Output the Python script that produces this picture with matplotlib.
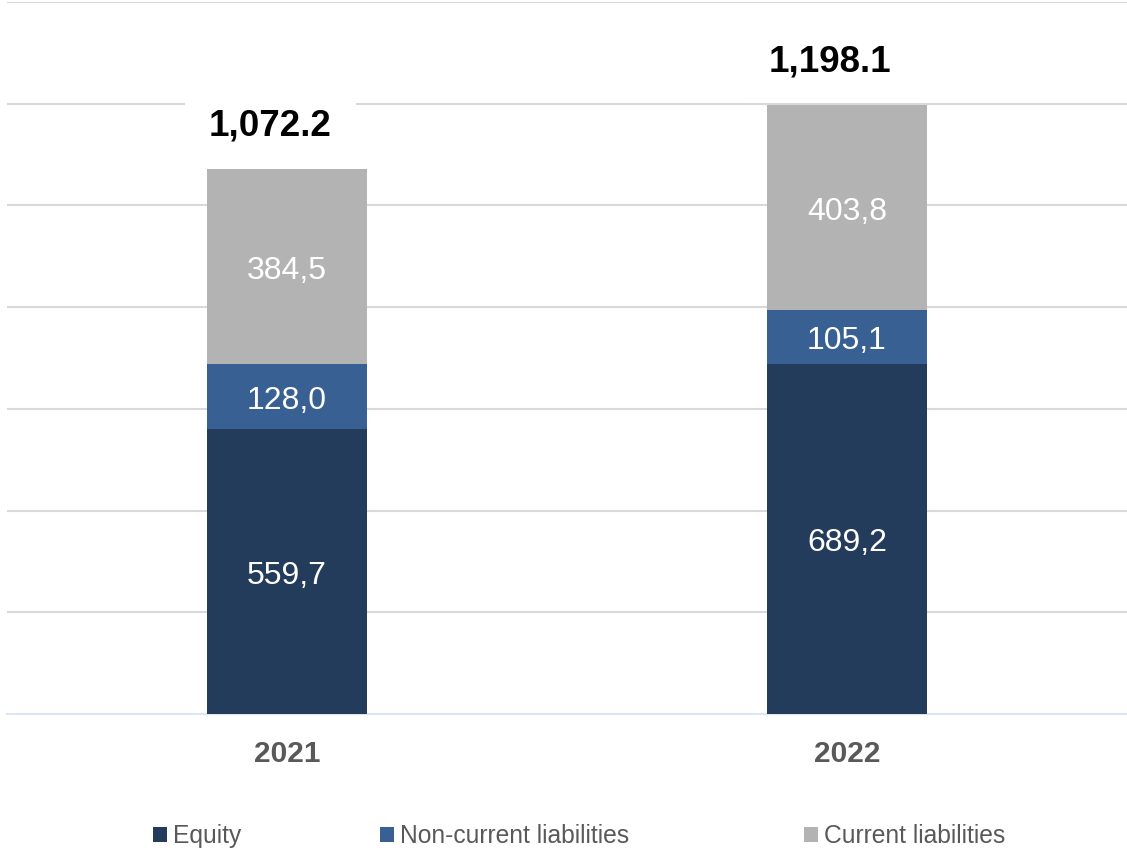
import numpy as np
import matplotlib.pyplot as plt

plt.rcParams['font.family'] = ['Liberation Sans', 'DejaVu Sans']

# data
years = ["2021", "2022"]
equity = [559.7, 689.2]
non_current = [128.0, 105.1]
current = [384.5, 403.8]
totals = ["1,072.2", "1,198.1"]

series = [
    ("Equity", equity, "#243c5c"),
    ("Non-current liabilities", non_current, "#386093"),
    ("Current liabilities", current, "#b3b3b3"),
]

fig = plt.figure(figsize=(11.27, 8.5), dpi=100)
ax = fig.add_axes([0.0062, 0.16, 0.9938, 0.8376])

x = np.arange(len(years))
bottom = np.zeros(len(years))
containers = []
for name, vals, col in series:
    bars = ax.bar(x, vals, width=0.285, bottom=bottom, color=col, label=name, zorder=3)
    # segment labels, shifted a touch down like the original
    for xi, b, v in zip(x, bottom, vals):
        ax.annotate(f"{v:.1f}".replace(".", ","), xy=(xi, b + v / 2), xytext=(0, -3),
                    textcoords="offset points", ha="center", va="center",
                    color="white", fontsize=23, zorder=4)
    containers.append(bars)
    bottom += np.array(vals)

# totals above the bars
for i, t in enumerate(totals):
    ax.annotate(t, xy=(x[i], bottom[i]), xytext=(-12, 24), textcoords="offset points",
                ha="center", va="baseline", fontsize=26.5, fontweight="bold", color="black",
                bbox=dict(boxstyle="square,pad=0.65", fc="white", ec="none"), zorder=5)

ax.set_xlim(-0.5, 1.5)
ax.set_ylim(0, 1400)
ax.set_yticks(np.arange(0, 1401, 200))
ax.yaxis.grid(True, color="#d9d9d9", linewidth=1.5, zorder=0)
ax.set_axisbelow(True)
ax.tick_params(axis="y", left=False, labelleft=False)
ax.set_xticks(x)
ax.set_xticklabels(years, fontsize=21.5, fontweight="bold", color="#595959")
ax.tick_params(axis="x", length=0, pad=19)
for s in ["top", "left", "right"]:
    ax.spines[s].set_visible(False)
ax.spines["bottom"].set_color("#dce6f2")
ax.spines["bottom"].set_linewidth(1.5)
ax.spines["bottom"].set_zorder(2)

# legend, one entry per column
legend_x = [0.1358, 0.3372, 0.7134]
for bars, (name, _, _), lx in zip(containers, series, legend_x):
    fig.legend([bars], [name], loc="center left", bbox_to_anchor=(lx, 0.0165),
               frameon=False, fontsize=17.7, labelcolor="#595959",
               handlelength=0.55, handleheight=0.55, handletextpad=0.25,
               borderpad=0, borderaxespad=0)

fig.savefig("out.png", dpi=100)
